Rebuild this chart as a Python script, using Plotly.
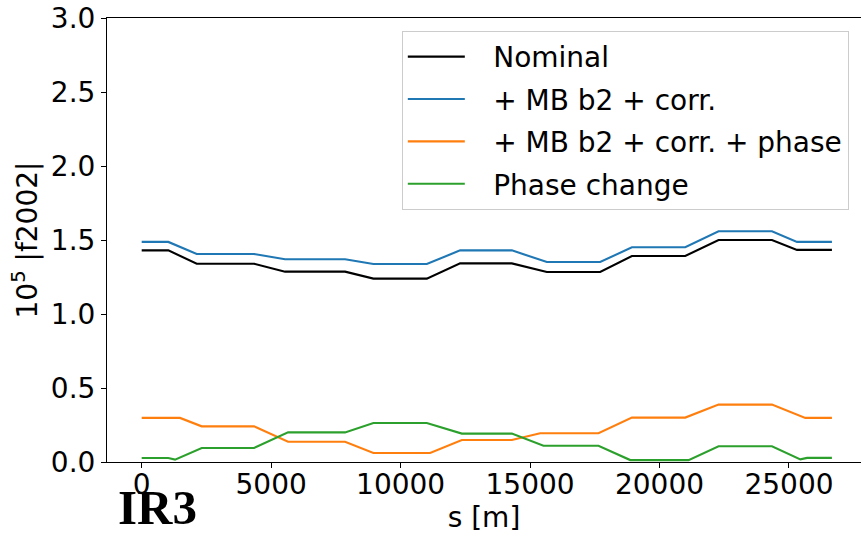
import plotly.graph_objects as go

# Position along the ring [m] and 10^5 |f2002| for each configuration
s_nominal = [0, 1028, 2125, 4339, 5537, 7855, 8949, 11012, 12299, 14297,
             15649, 17708, 18933, 20993, 22280, 24343, 25309, 26659]
f_nominal = [1.430, 1.430, 1.340, 1.340, 1.286, 1.286, 1.239, 1.239, 1.342, 1.342,
             1.284, 1.284, 1.392, 1.392, 1.500, 1.500, 1.433, 1.433]

s_corr = s_nominal
f_corr = [1.487, 1.487, 1.405, 1.405, 1.370, 1.370, 1.338, 1.338, 1.430, 1.430,
          1.351, 1.351, 1.451, 1.451, 1.559, 1.559, 1.487, 1.487]

s_phase = [0, 1480, 2318, 4339, 5653, 7855, 8949, 11140, 12365, 14297,
           15390, 17643, 18933, 20993, 22280, 24343, 25630, 26659]
f_phase = [0.298, 0.298, 0.241, 0.241, 0.137, 0.137, 0.061, 0.061, 0.149, 0.149,
           0.194, 0.194, 0.300, 0.300, 0.388, 0.388, 0.298, 0.298]

s_change = [0, 1028, 1287, 2318, 4339, 5653, 7855, 8949, 11012, 12365, 14297,
            15518, 17643, 18870, 21122, 22280, 24343, 25440, 25700, 26659]
f_change = [0.027, 0.027, 0.016, 0.095, 0.095, 0.200, 0.200, 0.264, 0.264, 0.192, 0.192,
            0.110, 0.110, 0.013, 0.013, 0.106, 0.106, 0.018, 0.028, 0.028]

labels = ["Nominal", "+ MB b2 + corr.", "+ MB b2 + corr. + phase", "Phase change"]
colors = ["#000000", "#1f77b4", "#ff7f0e", "#2ca02c"]

x_ticks = [0, 5000, 10000, 15000, 20000, 25000]
y_ticks = [0.0, 0.5, 1.0, 1.5, 2.0, 2.5, 3.0]

FONT = "DejaVu Sans"
GAP = "\u00a0\u00a0\u2009"  # space between legend line sample and label

fig = go.Figure()
series = [(s_nominal, f_nominal), (s_corr, f_corr), (s_phase, f_phase), (s_change, f_change)]
for i, ((s, f), name, col) in enumerate(zip(series, labels, colors)):
    fig.add_trace(go.Scatter(
        x=s, y=f, mode="lines", name=GAP + name, legendgroup=f"g{i}",
        line=dict(color=col, width=2.1),
    ))

fig.update_layout(
    width=861, height=537,
    margin=dict(l=107, r=0, t=18, b=75, pad=0),
    paper_bgcolor="white", plot_bgcolor="white",
    font=dict(family=FONT, size=28, color="black"),
    showlegend=True,
    legend=dict(
        x=0.391, y=0.971, xanchor="left", yanchor="top",
        bgcolor="white", bordercolor="#cccccc", borderwidth=1,
        font=dict(family=FONT, size=28, color="black"),
        tracegroupgap=3, itemwidth=57,
    ),
    annotations=[dict(
        text="<b>IR3</b>", xref="paper", yref="paper",
        x=0.012, y=-0.103, xanchor="left", yanchor="middle",
        showarrow=False,
        font=dict(family="Liberation Serif", size=49, color="black"),
    )],
)

fig.update_xaxes(
    range=[-1340, 27782], tickvals=x_ticks, ticktext=[str(v) for v in x_ticks],
    showgrid=False, zeroline=False,
    showline=True, linecolor="black", linewidth=1, mirror=True,
    ticks="outside", ticklen=5, tickwidth=1, tickcolor="black",
    ticklabelstandoff=-8,
    tickfont=dict(family=FONT, size=28, color="black"),
    title=dict(text="s [m]", font=dict(family=FONT, size=28, color="black"), standoff=0),
)
fig.update_yaxes(
    range=[0, 3], tickvals=y_ticks, ticktext=[f"{v:.1f}" for v in y_ticks],
    showgrid=False, zeroline=False,
    showline=True, linecolor="black", linewidth=1,
    ticks="outside", ticklen=5, tickwidth=1, tickcolor="black",
    tickfont=dict(family=FONT, size=28, color="black"),
    title=dict(text="10<sup>5</sup> |f2002|", font=dict(family=FONT, size=28, color="black"), standoff=5),
)

fig.write_html("out.html")
